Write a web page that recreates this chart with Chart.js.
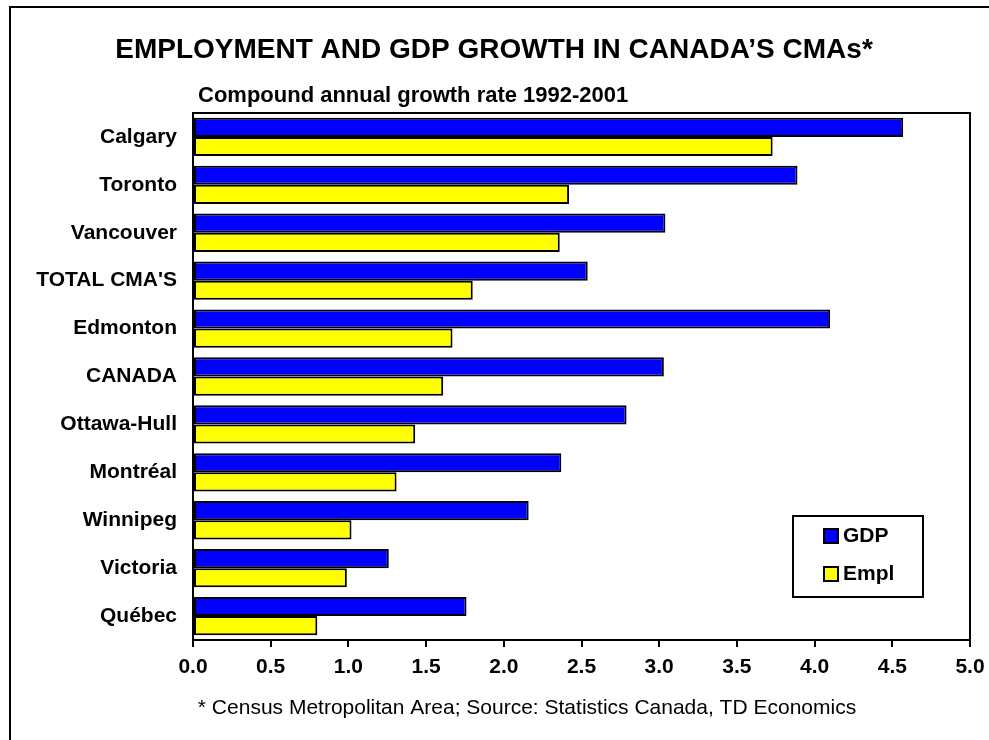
<!DOCTYPE html>
<html>
<head>
<meta charset="utf-8">
<script src="https://cdn.jsdelivr.net/npm/chart.js@4.4.1/dist/chart.umd.min.js"></script>
<style>
  html, body { margin: 0; padding: 0; background: #fff; }
  #wrap { width: 989px; height: 740px; position: relative; }
</style>
</head>
<body>
<div id="wrap"><canvas id="cmaChart"></canvas></div>
<script>
const cities = ["Calgary", "Toronto", "Vancouver", "TOTAL CMA'S", "Edmonton", "CANADA",
                "Ottawa-Hull", "Montréal", "Winnipeg", "Victoria", "Québec"];
const gdpGrowth = [4.57, 3.89, 3.04, 2.54, 4.10, 3.03, 2.79, 2.37, 2.16, 1.26, 1.76];
const emplGrowth = [3.73, 2.42, 2.36, 1.80, 1.67, 1.61, 1.43, 1.31, 1.02, 0.99, 0.80];
const xTicks = [0, 0.5, 1, 1.5, 2, 2.5, 3, 3.5, 4, 4.5, 5];

const FONT = "Arial, 'Liberation Sans', sans-serif";

// frame, title, plot border, subtitle, footnote and the boxed legend
const decorations = {
    id: "decorations",
    afterDraw(chart) {
        const c = chart.ctx;
        const a = chart.chartArea;
        c.save();
        c.strokeStyle = "#000";
        c.lineWidth = 2;
        c.strokeRect(10, 7, 1000, 760);
        c.strokeRect(a.left, a.top, a.right - a.left, a.bottom - a.top);

        c.fillStyle = "#000";
        c.textBaseline = "middle";
        c.textAlign = "center";
        c.font = "bold 28px " + FONT;
        c.fillText("EMPLOYMENT AND GDP GROWTH IN CANADA\u2019S CMAs*", 494, 50);

        c.textAlign = "left";
        c.font = "bold 22px " + FONT;
        c.fillText("Compound annual growth rate 1992-2001", a.left + 5, 96);

        c.textAlign = "center";
        c.font = "21px " + FONT;
        c.fillText("* Census Metropolitan Area; Source: Statistics Canada, TD Economics", 527, 708);

        // legend
        const bx = a.right - 177, by = a.bottom - 124, bw = 130, bh = 81;
        c.fillStyle = "#fff";
        c.fillRect(bx, by, bw, bh);
        c.strokeRect(bx, by, bw, bh);
        c.font = "bold 21px " + FONT;
        c.textAlign = "left";
        chart.data.datasets.forEach((ds, i) => {
            const y = by + 20 + i * 38;
            c.fillStyle = ds.backgroundColor;
            c.fillRect(bx + 31, y - 7, 14, 14);
            c.strokeRect(bx + 31, y - 7, 14, 14);
            c.fillStyle = "#000";
            c.fillText(ds.label, bx + 50, y);
        });
        c.restore();
    }
};

const ctx = document.getElementById("cmaChart").getContext("2d");
const chart = new Chart(ctx, {
    type: "bar",
    data: {
        labels: cities,
        datasets: [
            { label: "GDP", data: gdpGrowth, backgroundColor: "#0000ff" },
            { label: "Empl", data: emplGrowth, backgroundColor: "#ffff00" }
        ]
    },
    options: {
        indexAxis: "y",
        responsive: true,
        maintainAspectRatio: false,
        animation: false,
        layout: { padding: { left: 0, right: 19, top: 113, bottom: 0 } },
        datasets: {
            bar: {
                categoryPercentage: 0.8,
                barPercentage: 1.0,
                borderColor: "#000",
                borderWidth: 2,
                borderSkipped: false
            }
        },
        plugins: {
            legend: { display: false },
            tooltip: { enabled: false }
        },
        scales: {
            x: {
                min: 0,
                max: 5,
                afterBuildTicks: (scale) => { scale.ticks = xTicks.map(v => ({ value: v })); },
                afterFit: (scale) => { scale.height = 100; scale.paddingRight = 0; scale.paddingLeft = 0; },
                grid: { drawOnChartArea: false, drawTicks: true, tickLength: 7, color: "#000", lineWidth: 2 },
                border: { display: true, color: "#000", width: 2 },
                ticks: {
                    color: "#000",
                    padding: 8,
                    maxRotation: 0,
                    font: { family: FONT, size: 21, weight: "bold" },
                    callback: (v) => Number(v).toFixed(1)
                }
            },
            y: {
                afterFit: (scale) => { scale.width = 193; },
                grid: { display: false, drawTicks: false },
                border: { display: true, color: "#000", width: 2 },
                ticks: {
                    color: "#000",
                    padding: 16,
                    font: { family: FONT, size: 21, weight: "bold" }
                }
            }
        }
    },
    plugins: [decorations]
});
</script>
</body>
</html>
